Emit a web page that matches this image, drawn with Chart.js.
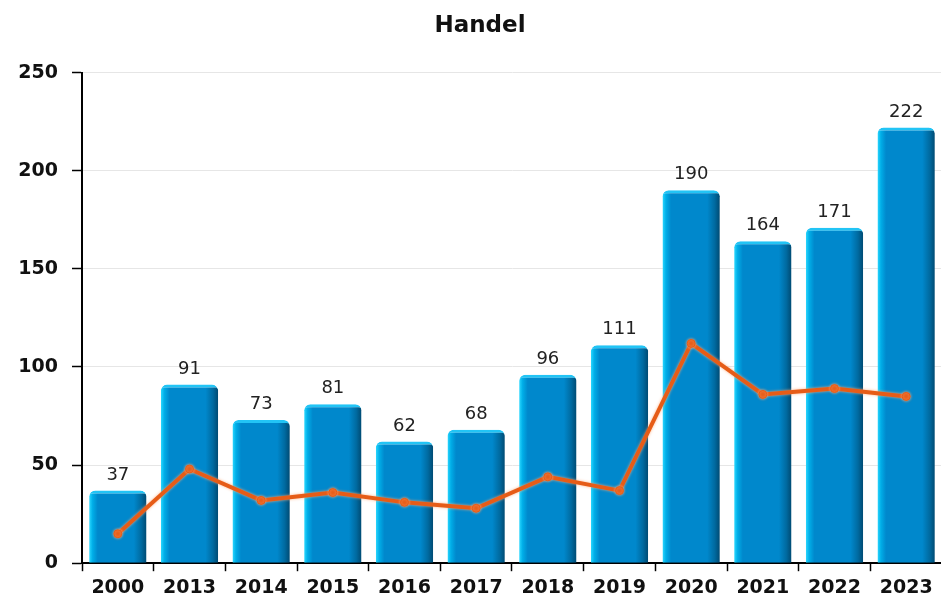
<!DOCTYPE html>
<html>
<head>
<meta charset="utf-8">
<script src="https://cdn.jsdelivr.net/npm/chart.js@4.4.1/dist/chart.umd.min.js"></script>
<style>
  html, body { margin: 0; padding: 0; background: #fff; overflow: hidden; }
  #wrap { width: 960px; height: 604px; }
</style>
</head>
<body>
<div id="wrap"><canvas id="c" width="960" height="604"></canvas></div>
<script>
const categories = ['2000','2013','2014','2015','2016','2017','2018','2019','2020','2021','2022','2023'];
const barValues  = [37, 91, 73, 81, 62, 68, 96, 111, 190, 164, 171, 222];
const lineValues = [15, 48, 32, 36, 31, 28, 44, 37, 112, 86, 89, 85];
const yTicks = [0, 50, 100, 150, 200, 250];
const titleText = 'Handel';

const FONT = '"DejaVu Sans", Verdana, sans-serif';
const BAR_PCT = 0.8;

function barGradient(ctx) {
  const chart = ctx.chart;
  const scales = chart.scales;
  if (!chart.chartArea || !scales || !scales.x) return '#0088cc';
  const x = scales.x.getPixelForValue(ctx.dataIndex);
  const w = (scales.x.width / categories.length) * BAR_PCT;
  const g = chart.ctx.createLinearGradient(x - w / 2, 0, x + w / 2, 0);
  g.addColorStop(0.00, '#2ad8ff');
  g.addColorStop(0.06, '#00aee8');
  g.addColorStop(0.15, '#0088cc');
  g.addColorStop(0.78, '#0088cc');
  g.addColorStop(0.91, '#006aa0');
  g.addColorStop(1.00, '#004a72');
  return g;
}

const dataLabels = {
  id: 'dataLabels',
  afterDatasetsDraw(chart) {
    const meta = chart.getDatasetMeta(0);
    const ctx = chart.ctx;
    ctx.save();
    ctx.font = '18px ' + FONT;
    ctx.fillStyle = '#222';
    ctx.textAlign = 'center';
    ctx.textBaseline = 'alphabetic';
    meta.data.forEach((el, i) => {
      ctx.fillText(String(barValues[i]), el.x, el.y - 11);
    });
    ctx.restore();
  }
};

const lineGlow = {
  id: 'lineGlow',
  beforeDatasetDraw(chart, args) {
    if (args.index === 1) {
      chart.ctx.save();
      chart.ctx.shadowColor = 'rgba(255,170,120,0.9)';
      chart.ctx.shadowBlur = 3;
    }
  },
  afterDatasetDraw(chart, args) {
    if (args.index === 1) chart.ctx.restore();
  }
};

new Chart(document.getElementById('c'), {
  type: 'bar',
  data: {
    labels: categories,
    datasets: [
      {
        type: 'bar',
        data: barValues,
        backgroundColor: barGradient,
        borderColor: '#22c4f5',
        borderWidth: { top: 3, left: 0, right: 0, bottom: 0 },
        borderRadius: { topLeft: 6, topRight: 6, bottomLeft: 0, bottomRight: 0 },
        borderSkipped: 'bottom',
        barPercentage: BAR_PCT,
        categoryPercentage: 1,
        order: 2
      },
      {
        type: 'line',
        data: lineValues,
        borderColor: '#e65c17',
        borderWidth: 4,
        pointRadius: 4,
        pointBackgroundColor: '#e65c17',
        pointBorderColor: '#e65c17',
        pointBorderWidth: 1,
        tension: 0,
        order: 1
      }
    ]
  },
  options: {
    responsive: false,
    animation: false,
    devicePixelRatio: 1,
    layout: { padding: { left: 18, right: 18, top: 0, bottom: 0 } },
    plugins: {
      legend: { display: false },
      tooltip: { enabled: false },
      title: {
        display: true,
        text: titleText,
        color: '#111',
        font: { family: FONT, size: 23, weight: 'bold' },
        padding: { top: 12, bottom: 33 }
      }
    },
    scales: {
      x: {
        grid: { display: true, drawOnChartArea: false, offset: true, tickLength: 8, tickColor: '#000', tickWidth: 1.5 },
        border: { display: true, color: '#000', width: 2 },
        ticks: { color: '#111', font: { family: FONT, size: 19, weight: 'bold' }, padding: 5, maxRotation: 0, autoSkip: false }
      },
      y: {
        min: 0,
        max: 250,
        afterBuildTicks(scale) { scale.ticks = yTicks.map(v => ({ value: v })); },
        afterFit(scale) { scale.width = 64; },
        grid: { color: '#e6e6e6', lineWidth: 1, tickLength: 10, tickColor: '#000', tickWidth: 1.5 },
        border: { display: true, color: '#000', width: 2 },
        ticks: { color: '#111', font: { family: FONT, size: 19, weight: 'bold' }, padding: 14 }
      }
    }
  },
  plugins: [dataLabels, lineGlow]
});
</script>
</body>
</html>
